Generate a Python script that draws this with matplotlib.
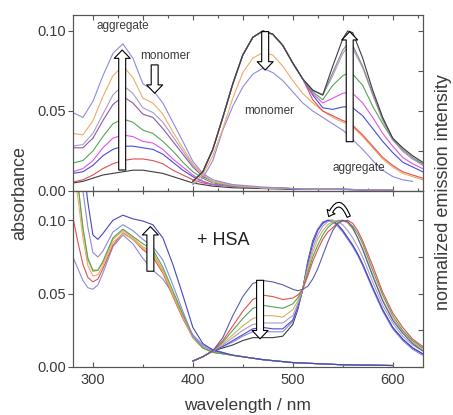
import numpy as np
import matplotlib
matplotlib.use("Agg")
import matplotlib.pyplot as plt
from matplotlib.patches import FancyArrowPatch
from matplotlib.ticker import MultipleLocator, NullFormatter

plt.rcParams['font.family'] = ['Liberation Sans', 'DejaVu Sans']

# ---------------- data ----------------
# top panel: absorbance (wavelength grid, nm)
top_abs_wl = [280, 290, 300, 310, 320, 330, 340, 350, 360, 370, 380, 390, 400, 410, 420, 440, 470, 500, 550, 600]
top_abs_lavender = [0.049, 0.046, 0.056, 0.072, 0.086, 0.092, 0.083, 0.067, 0.063, 0.055, 0.043, 0.031, 0.0185, 0.011, 0.007, 0.004, 0.0025, 0.0015, 0.001, 0.0005]
top_abs_orange = [0.036, 0.035, 0.044, 0.059, 0.072, 0.078, 0.071, 0.058, 0.055, 0.048, 0.037, 0.027, 0.017, 0.010, 0.006, 0.0035, 0.002, 0.0015, 0.001, 0.0005]
top_abs_greypurple = [0.028, 0.029, 0.036, 0.048, 0.060, 0.066, 0.061, 0.052, 0.049, 0.043, 0.034, 0.025, 0.016, 0.010, 0.006, 0.0035, 0.002, 0.0015, 0.001, 0.0005]
top_abs_purple = [0.027, 0.027, 0.033, 0.044, 0.054, 0.059, 0.055, 0.048, 0.046, 0.039, 0.031, 0.023, 0.015, 0.009, 0.006, 0.0035, 0.002, 0.0015, 0.001, 0.0005]
top_abs_green = [0.0175, 0.019, 0.025, 0.034, 0.042, 0.045, 0.043, 0.038, 0.036, 0.031, 0.025, 0.018, 0.012, 0.008, 0.005, 0.003, 0.002, 0.0015, 0.001, 0.0005]
top_abs_magenta = [0.012, 0.014, 0.019, 0.027, 0.033, 0.035, 0.034, 0.031, 0.030, 0.026, 0.020, 0.015, 0.010, 0.006, 0.004, 0.003, 0.002, 0.0015, 0.001, 0.0005]
top_abs_blue = [0.011, 0.012, 0.016, 0.022, 0.026, 0.028, 0.028, 0.027, 0.026, 0.023, 0.018, 0.013, 0.009, 0.006, 0.004, 0.003, 0.002, 0.0015, 0.001, 0.0005]
top_abs_red = [0.0056, 0.007, 0.010, 0.014, 0.017, 0.019, 0.020, 0.020, 0.019, 0.017, 0.013, 0.010, 0.007, 0.005, 0.004, 0.003, 0.002, 0.0015, 0.001, 0.0005]
top_abs_black = [0.005, 0.006, 0.008, 0.010, 0.011, 0.012, 0.013, 0.013, 0.012, 0.011, 0.009, 0.007, 0.005, 0.004, 0.003, 0.002, 0.0015, 0.001, 0.001, 0.0005]

# top panel: normalized emission
top_em_wl = [400, 410, 420, 430, 440, 450, 460, 470, 480, 490, 500, 510,
             520, 530, 540, 550, 555, 560, 570, 580, 590, 600, 610, 620, 630]
top_em_common_rise = [0.06, 0.12, 0.26, 0.46, 0.67, 0.85, 0.96, 1.00, 0.98, 0.91, 0.80, 0.70]
top_em_black_tail = [0.63, 0.60, 0.78, 0.95, 1.00, 0.99, 0.83, 0.63, 0.46, 0.33, 0.27, 0.22, 0.18]
top_em_grey_tail = [0.63, 0.60, 0.74, 0.88, 0.92, 0.91, 0.78, 0.61, 0.45, 0.33, 0.26, 0.21, 0.17]
top_em_greypurple_tail = [0.63, 0.60, 0.72, 0.86, 0.90, 0.89, 0.77, 0.60, 0.44, 0.32, 0.25, 0.20, 0.16]
top_em_green_tail = [0.62, 0.57, 0.66, 0.72, 0.735, 0.73, 0.66, 0.53, 0.42, 0.32, 0.25, 0.20, 0.17]
top_em_magenta_tail = [0.61, 0.55, 0.58, 0.61, 0.615, 0.61, 0.55, 0.46, 0.36, 0.28, 0.21, 0.17, 0.14]
top_em_blue_tail = [0.60, 0.52, 0.51, 0.525, 0.527, 0.52, 0.47, 0.39, 0.31, 0.24, 0.18, 0.15, 0.12]
top_em_red_tail = [0.57, 0.50, 0.47, 0.44, 0.43, 0.41, 0.35, 0.28, 0.21, 0.16, 0.12, 0.10, 0.08]
top_em_orange = [0.05, 0.10, 0.22, 0.39, 0.58, 0.74, 0.83, 0.865, 0.85, 0.78, 0.69, 0.61,
                 0.55, 0.50, 0.46, 0.43, 0.42, 0.40, 0.34, 0.27, 0.20, 0.15, 0.11, 0.09, 0.07]
top_em_lavender = [0.04, 0.08, 0.19, 0.38, 0.53, 0.65, 0.73, 0.767, 0.74, 0.69, 0.62, 0.55,
                   0.50, 0.46, 0.42, 0.38, 0.355, 0.32, 0.26, 0.19, 0.13, 0.09, 0.07, 0.06, np.nan]

# bottom panel (+ HSA): absorbance
bot_abs_wl = [280, 285, 290, 295, 300, 305, 310, 320, 330, 340, 350, 360, 370, 380, 390, 400, 410, 420, 440, 470, 500, 550, 600]
bot_abs_darkblue = [0.20, 0.165, 0.14, 0.112, 0.090, 0.087, 0.091, 0.100, 0.1035, 0.101, 0.0995, 0.097, 0.088, 0.070, 0.049, 0.027, 0.016, 0.0115, 0.008, 0.005, 0.003, 0.0015, 0.001]
bot_abs_purpleblue = [0.17, 0.14, 0.12, 0.095, 0.078, 0.075, 0.079, 0.092, 0.097, 0.093, 0.087, 0.082, 0.073, 0.056, 0.038, 0.021, 0.014, 0.011, 0.008, 0.005, 0.003, 0.0015, 0.001]
bot_abs_green = [0.16, 0.125, 0.095, 0.074, 0.066, 0.066, 0.072, 0.088, 0.094, 0.089, 0.084, 0.080, 0.068, 0.052, 0.036, 0.021, 0.013, 0.010, 0.008, 0.005, 0.003, 0.0015, 0.001]
bot_abs_olive = [0.16, 0.125, 0.094, 0.073, 0.065, 0.066, 0.071, 0.087, 0.093, 0.088, 0.082, 0.078, 0.066, 0.050, 0.035, 0.020, 0.013, 0.010, 0.008, 0.005, 0.003, 0.0015, 0.001]
bot_abs_orange = [0.14, 0.115, 0.088, 0.069, 0.062, 0.063, 0.069, 0.085, 0.091, 0.087, 0.081, 0.077, 0.065, 0.049, 0.034, 0.020, 0.013, 0.010, 0.008, 0.005, 0.003, 0.0015, 0.001]
bot_abs_red = [0.102, 0.085, 0.070, 0.061, 0.058, 0.060, 0.067, 0.083, 0.0915, 0.087, 0.080, 0.075, 0.064, 0.048, 0.033, 0.020, 0.013, 0.010, 0.008, 0.005, 0.003, 0.0015, 0.001]
bot_abs_lavender = [0.075, 0.067, 0.059, 0.054, 0.053, 0.056, 0.064, 0.082, 0.090, 0.084, 0.074, 0.066, 0.060, 0.050, 0.035, 0.022, 0.015, 0.012, 0.008, 0.005, 0.003, 0.0015, 0.001]

# bottom panel (+ HSA): normalized emission
bot_em_wl = [400, 410, 420, 430, 440, 450, 460, 470, 480, 490, 500,
             505, 510, 515, 520, 525, 530, 535, 540, 545, 550, 555, 560, 565, 570,
             580, 590, 600, 610, 620, 630]
bot_em_navy = [0.04, 0.07, 0.11, 0.20, 0.35, 0.48, 0.57, 0.59, 0.58, 0.56, 0.53,
               0.52, 0.53, 0.55, 0.60, 0.67, 0.76, 0.85, 0.93, 0.98, 1.00, 0.99, 0.95, 0.88, 0.80,
               0.62, 0.45, 0.32, 0.23, 0.16, 0.11]
bot_em_red = [0.04, 0.07, 0.11, 0.18, 0.28, 0.38, 0.46, 0.49, 0.48, 0.46, 0.47,
              0.49, 0.53, 0.62, 0.72, 0.80, 0.87, 0.92, 0.95, 0.98, 0.995, 1.00, 0.98, 0.93, 0.86,
              0.69, 0.51, 0.37, 0.27, 0.19, 0.14]
bot_em_green = [0.04, 0.07, 0.11, 0.17, 0.25, 0.33, 0.40, 0.42, 0.41, 0.40, 0.43,
                0.47, 0.53, 0.64, 0.75, 0.83, 0.90, 0.95, 0.98, 0.995, 1.00, 0.99, 0.96, 0.91, 0.84,
                0.66, 0.49, 0.35, 0.25, 0.18, 0.13]
bot_em_olive = [0.04, 0.07, 0.11, 0.16, 0.22, 0.28, 0.33, 0.35, 0.35, 0.34, 0.39,
                0.45, 0.53, 0.66, 0.78, 0.87, 0.93, 0.97, 0.99, 1.00, 1.00, 0.98, 0.94, 0.88, 0.81,
                0.63, 0.46, 0.33, 0.24, 0.17, 0.12]
bot_em_purple = [0.04, 0.07, 0.11, 0.15, 0.20, 0.25, 0.29, 0.30, 0.30, 0.30, 0.35,
                 0.43, 0.53, 0.68, 0.81, 0.90, 0.96, 0.99, 1.00, 0.99, 0.97, 0.93, 0.88, 0.82, 0.75,
                 0.58, 0.42, 0.30, 0.21, 0.15, 0.11]
bot_em_blue = [0.04, 0.07, 0.11, 0.14, 0.18, 0.22, 0.26, 0.27, 0.26, 0.26, 0.32,
               0.41, 0.53, 0.70, 0.84, 0.93, 0.98, 1.00, 0.995, 0.97, 0.93, 0.88, 0.83, 0.77, 0.70,
               0.54, 0.39, 0.27, 0.19, 0.13, 0.09]
bot_em_lavender = [0.04, 0.07, 0.11, 0.14, 0.17, 0.21, 0.24, 0.24, 0.24, 0.24, 0.31,
                   0.40, 0.53, 0.71, 0.85, 0.94, 0.99, 1.00, 0.99, 0.96, 0.92, 0.87, 0.82, 0.76, 0.69,
                   0.53, 0.38, 0.26, 0.18, 0.12, 0.08]
bot_em_black = [0.04, 0.07, 0.11, 0.13, 0.15, 0.18, 0.20, 0.20, 0.20, 0.21, 0.29,
                0.39, 0.53, 0.72, 0.86, 0.94, 0.98, 1.00, 1.00, 0.97, 0.93, 0.88, 0.83, 0.77, 0.70,
                0.54, 0.39, 0.27, 0.19, 0.13, 0.09]

C = {
    'black': '#3c3c3c', 'grey': '#8a8a8a', 'red': '#e05050', 'blue': '#4a4ae0',
    'magenta': '#e055e0', 'green': '#55a555', 'purple': '#8a5aa5',
    'greypurple': '#aa9cc4', 'orange': '#f0aa66', 'lavender': '#8c8cdc',
    'navy': '#5c5ca8', 'darkblue': '#4848b8', 'purpleblue': '#8a8ad6', 'olive': '#cdb45a',
}
TXT = '#3a3a3a'
SP = '#555555'
LW = 0.8

# ---------------- figure ----------------
fig = plt.figure(figsize=(4.53, 4.15), dpi=100)
L, W = 0.161, 0.772
ax1 = fig.add_axes([L, 0.5398, W, 0.4241])
ax2 = fig.add_axes([L, 0.1157, W, 0.4241])
ax1t = ax1.twinx()
ax2t = ax2.twinx()

# top absorbance
for y, c in [(top_abs_black, 'black'), (top_abs_red, 'red'), (top_abs_blue, 'blue'),
             (top_abs_magenta, 'magenta'), (top_abs_green, 'green'), (top_abs_purple, 'purple'),
             (top_abs_greypurple, 'greypurple'), (top_abs_orange, 'orange'),
             (top_abs_lavender, 'lavender')]:
    ax1.plot(top_abs_wl, y, color=C[c], lw=LW)

# top emission
for y, c in [(top_em_lavender, 'lavender'), (top_em_orange, 'orange'),
             (top_em_common_rise + top_em_red_tail, 'red'),
             (top_em_common_rise + top_em_blue_tail, 'blue'),
             (top_em_common_rise + top_em_magenta_tail, 'magenta'),
             (top_em_common_rise + top_em_green_tail, 'green'),
             (top_em_common_rise + top_em_greypurple_tail, 'greypurple'),
             (top_em_common_rise + top_em_grey_tail, 'grey'),
             (top_em_common_rise + top_em_black_tail, 'black')]:
    ax1t.plot(top_em_wl, y, color=C[c], lw=LW)

# bottom absorbance
for y, c in [(bot_abs_lavender, 'lavender'), (bot_abs_red, 'red'), (bot_abs_orange, 'orange'),
             (bot_abs_olive, 'olive'), (bot_abs_green, 'green'),
             (bot_abs_purpleblue, 'purpleblue'), (bot_abs_darkblue, 'darkblue')]:
    ax2.plot(bot_abs_wl, y, color=C[c], lw=LW)

# bottom emission
for y, c in [(bot_em_black, 'black'), (bot_em_lavender, 'lavender'), (bot_em_blue, 'blue'),
             (bot_em_purple, 'greypurple'), (bot_em_olive, 'olive'), (bot_em_green, 'green'),
             (bot_em_red, 'red'), (bot_em_navy, 'navy')]:
    ax2t.plot(bot_em_wl, y, color=C[c], lw=LW)

# ---------------- axes styling ----------------
for ax in (ax1, ax2, ax1t, ax2t):
    ax.set_xlim(280, 630)
    for s in ax.spines.values():
        s.set_color(SP)
        s.set_linewidth(0.8)

ax1.set_ylim(0, 0.11)
ax2.set_ylim(0, 0.12)

for ax in (ax1, ax2):
    ax.yaxis.set_major_locator(MultipleLocator(0.05))
    ax.yaxis.set_major_formatter(plt.FuncFormatter(lambda v, p: f"{v:.2f}"))
    ax.tick_params(axis='y', which='major', direction='out', length=3.5, width=0.8,
                   colors=SP, labelcolor=TXT, labelsize=10.5, pad=1.5, right=False)
    ax.tick_params(axis='x', which='both', direction='in', top=True, bottom=True,
                   colors=SP, labelcolor=TXT, labelsize=10.5, width=0.8)
    ax.tick_params(axis='x', which='major', length=3.5)
    ax.tick_params(axis='x', which='minor', length=2.5)

ax1.xaxis.set_major_locator(MultipleLocator(50))
ax1.xaxis.set_minor_locator(MultipleLocator(25))
ax1.tick_params(axis='x', labelbottom=False)
ax2.xaxis.set_major_locator(MultipleLocator(100))
ax2.xaxis.set_minor_locator(MultipleLocator(50))
ax2.tick_params(axis='x', pad=4)

for ax in (ax1t, ax2t):
    ax.yaxis.set_major_locator(MultipleLocator(0.25))
    ax.yaxis.set_major_formatter(NullFormatter())
    ax.tick_params(axis='y', direction='in', length=3.5, width=0.8, colors=SP)
ax1t.set_ylim(0, 1.1)
ax2t.set_ylim(0, 1.2)

# ---------------- labels ----------------
fig.text(20 / 453, 1 - 193 / 415, 'absorbance', rotation=90, ha='center', va='center',
         fontsize=13, color=TXT)
fig.text(443 / 453, 1 - 192 / 415, 'normalized emission intensity', rotation=90,
         ha='center', va='center', fontsize=13, color=TXT)
ax2.set_xlabel('wavelength / nm', fontsize=12.5, color=TXT, labelpad=8)

t1 = ax1.transData
ax1t.text(329.6, 0.103, 'aggregate', transform=t1, ha='center', va='center', fontsize=8.5, color=TXT)
ax1t.text(371.9, 0.0844, 'monomer', transform=t1, ha='center', va='center', fontsize=8.5, color=TXT)
ax1t.text(476.4, 0.050, 'monomer', transform=t1, ha='center', va='center', fontsize=8.5, color=TXT)
ax1t.text(565.8, 0.0144, 'aggregate', transform=t1, ha='center', va='center', fontsize=8.5, color=TXT)
t2 = ax2.transData
ax2t.text(430, 0.0865, '+ HSA', transform=t2, ha='center', va='center', fontsize=13, color='#202020')


def block_arrow(ax, tr, x, y0, y1):
    p = FancyArrowPatch((x, y0), (x, y1), transform=tr,
                        arrowstyle='simple,head_length=6,head_width=11.5,tail_width=5',
                        mutation_scale=1, fc='white', ec='black', lw=0.8,
                        shrinkA=0, shrinkB=0, zorder=10)
    ax.add_patch(p)


block_arrow(ax1t, t1, 329.3, 0.0131, 0.0881)
block_arrow(ax1t, t1, 361.8, 0.0788, 0.0611)
block_arrow(ax1t, t1, 472.4, 0.0996, 0.0756)
block_arrow(ax1t, t1, 557.0, 0.0308, 0.0996)
block_arrow(ax2t, t2, 357.5, 0.0653, 0.0957)
block_arrow(ax2t, t2, 467.3, 0.0591, 0.0192)

curved = FancyArrowPatch((556, 0.1025), (536, 0.1025), transform=t2,
                         connectionstyle='arc3,rad=1.2',
                         arrowstyle='simple,head_length=4,head_width=6.5,tail_width=2.5',
                         mutation_scale=1, fc='white', ec='black', lw=0.8,
                         shrinkA=0, shrinkB=0, zorder=10)
ax2t.add_patch(curved)

fig.savefig('out.png', dpi=100)
